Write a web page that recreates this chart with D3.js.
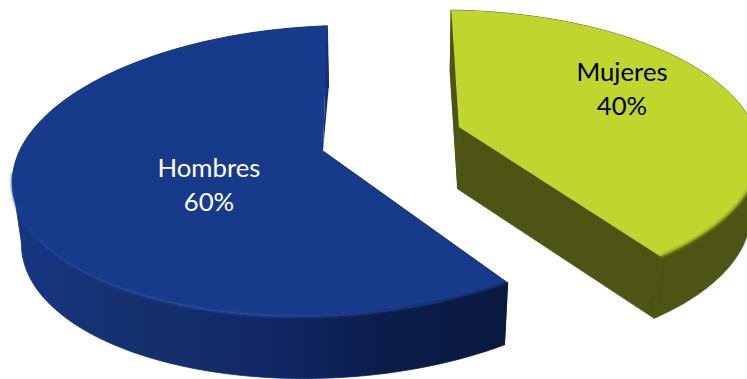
<!DOCTYPE html>
<html>
<head>
<meta charset="utf-8">
<style>
  html, body { margin: 0; padding: 0; background: #fff; overflow: hidden; }
  svg { display: block; }
  text { font-family: Lato, "Open Sans", sans-serif; font-size: 25.7px; text-anchor: middle; }
</style>
<script src="https://cdn.jsdelivr.net/npm/d3@7"></script>
</head>
<body>
<svg id="chart" width="747" height="379"></svg>
<script>
// Survey share by sex
const categories = ["Hombres", "Mujeres"];
const shares = [60, 40];

// Perspective layout of each exploded wedge: apex, rim ellipse, wall colours
const apexes = [[323, 151], [459, 127]];
const rims = [
  { cx: 326, cy: 171, rx: 314, ry: 145, tilt: -2.6 },
  { cx: 440, cy: 153, rx: 319, ry: 143, tilt: 0 }
];
const topColors = ["#183a8a", "#bed62d"];
const labelColors = ["#ffffff", "#000000"];
const labelAnchors = [[209, 177], [622, 81]];
const angleNudge = [0, -2.9];   // exploded wedges sit slightly rotated in perspective
const squash = 2;               // horizontal : vertical foreshortening of the pie plane
const depth = 62;               // height of the extruded walls
const wallScale = 0.975;        // the lower edge is farther from the viewer
const vanishX = [380, 410];

const svg = d3.select("#chart");
const defs = svg.append("defs");
const rad = d => d * Math.PI / 180;

const blueWall = defs.append("linearGradient")
  .attr("id", "wall0").attr("gradientUnits", "userSpaceOnUse")
  .attr("x1", 11).attr("x2", 505).attr("y1", 0).attr("y2", 0);
[[0, "#173682"], [0.25, "#15306f"], [0.5, "#122868"], [0.75, "#0c1d4c"], [1, "#0a1a3e"]]
  .forEach(([o, c]) => blueWall.append("stop").attr("offset", o).attr("stop-color", c));

const oliveWall = defs.append("linearGradient").attr("id", "wall1");
oliveWall.append("stop").attr("offset", 0).attr("stop-color", "#4e5413");
oliveWall.append("stop").attr("offset", 1).attr("stop-color", "#4e5413");

const blueBevel = defs.append("linearGradient")
  .attr("id", "bevel0").attr("gradientUnits", "userSpaceOnUse")
  .attr("x1", 11).attr("x2", 505).attr("y1", 0).attr("y2", 0);
[[0, "#1f4298"], [0.45, "#2d4fa6"], [0.72, "#1a3a86"], [0.82, "#10265c"], [1, "#0e2355"]]
  .forEach(([o, c]) => blueBevel.append("stop").attr("offset", o).attr("stop-color", c));

defs.append("filter").attr("id", "soft")
  .attr("x", "-5%").attr("y", "-5%").attr("width", "110%").attr("height", "110%")
  .append("feGaussianBlur").attr("stdDeviation", 0.9);

// Where the ray leaving the apex at pie angle t meets the wedge's rim ellipse
function rimPoint(i, t) {
  const [ax, ay] = apexes[i];
  const e = rims[i];
  const c = Math.cos(rad(e.tilt)), s = Math.sin(rad(e.tilt));
  const dxS = squash * Math.sin(t), dyS = -Math.cos(t);
  const px = (ax - e.cx) * c + (ay - e.cy) * s, py = -(ax - e.cx) * s + (ay - e.cy) * c;
  const ux = dxS * c + dyS * s, uy = -dxS * s + dyS * c;
  const A = ux * ux / (e.rx * e.rx) + uy * uy / (e.ry * e.ry);
  const B = 2 * (px * ux / (e.rx * e.rx) + py * uy / (e.ry * e.ry));
  const C = px * px / (e.rx * e.rx) + py * py / (e.ry * e.ry) - 1;
  const k = (-B + Math.sqrt(B * B - 4 * A * C)) / (2 * A);
  return [ax + k * dxS, ay + k * dyS];
}

const line = d3.line();

const arcs = d3.pie().sort(null).value(d => d)
  .startAngle(rad(145)).endAngle(rad(505))(shares);

const groups = svg.selectAll("g.wedge").data(arcs).join("g").attr("class", "wedge");

groups.each(function (d, i) {
  const g = d3.select(this);
  const lower = ([x, y]) => [x + (vanishX[i] - x) * (1 - wallScale), y + depth];
  const from = d.startAngle + rad(angleNudge[i]);
  const to = d.endAngle + rad(angleNudge[i]);
  const rim = d3.range(0, 145).map(n => rimPoint(i, from + (to - from) * n / 144));
  const apex = apexes[i];
  const first = rim[0], last = rim[rim.length - 1];
  const outer = d3.least(rim, p => p[0]);
  const fill = `url(#wall${i})`;
  const wall = shape => g.append("path")
    .attr("fill", fill).attr("stroke", fill).attr("stroke-width", 0.8)
    .attr("d", line(shape) + "Z");

  // Outer wall, its silhouette past the leftmost rim point, then the cut faces
  wall(rim.concat(rim.map(lower).reverse()));
  wall([outer, lower(outer), lower(apex)]);
  wall([apex, first, lower(first), lower(apex)]);
  if (i === 0) {
    // Only a sliver of the far cut shows behind the blue wedge
    g.append("path").attr("fill", "#13307a")
      .attr("d", line([apex, last, lower(last)]) + "Z");
  } else {
    wall([apex, last, lower(last), lower(apex)]);
  }

  // Top face
  g.append("path").attr("fill", topColors[i])
    .attr("d", line([apex].concat(rim)) + "Z");

  // Soft bevel along the front of the rim
  const front = rim.filter(([x, y]) => y > rims[i].cy + (i === 0 ? 0 : 30));
  g.append("path")
    .attr("fill", "none")
    .attr("stroke", i === 0 ? "url(#bevel0)" : "#8d9d24")
    .attr("stroke-width", i === 0 ? 1.8 : 2.4)
    .attr("filter", "url(#soft)")
    .attr("d", line(front));

  g.selectAll("text")
    .data([categories[i], `${d.data}%`])
    .join("text")
    .attr("x", labelAnchors[i][0])
    .attr("y", (t, n) => labelAnchors[i][1] + n * 33.5)
    .attr("fill", labelColors[i])
    .text(t => t);
});
</script>
</body>
</html>
